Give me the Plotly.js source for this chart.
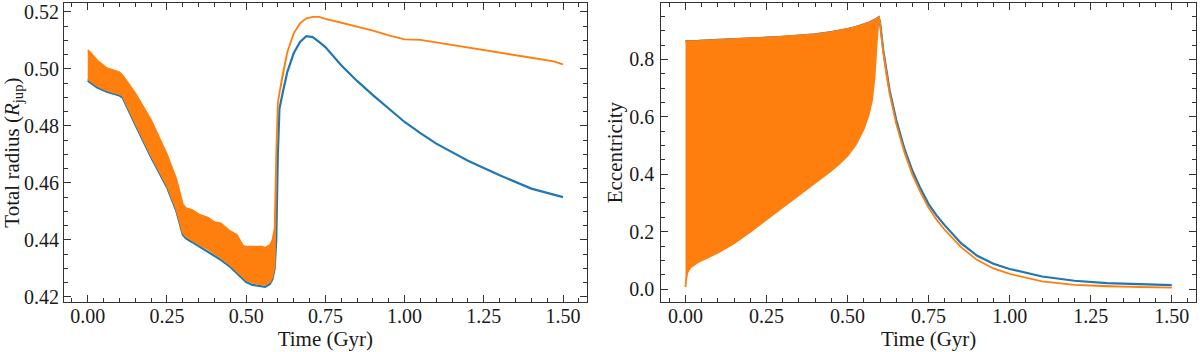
<!DOCTYPE html>
<html>
<head>
<meta charset="utf-8">
<script src="https://cdn.plot.ly/plotly-3.0.1.min.js"></script>
<style>
  html, body { margin: 0; padding: 0; background: #fff; }
  #chart { width: 1200px; height: 352px; }
</style>
</head>
<body>
<div id="chart"></div>
<script>
// --- left panel: total radius (R_jup) vs time (Gyr)
const radTime = [0, 0.005, 0.03, 0.06, 0.1, 0.11, 0.15, 0.2, 0.25, 0.28, 0.3, 0.31, 0.33, 0.35, 0.38, 0.4, 0.42, 0.45, 0.47, 0.49, 0.5, 0.52, 0.55, 0.56, 0.575, 0.583, 0.59, 0.595, 0.6, 0.605, 0.615, 0.63, 0.65, 0.67, 0.69, 0.71, 0.73, 0.75, 0.8, 0.85, 0.9, 0.95, 1.0, 1.05, 1.1, 1.2, 1.3, 1.4, 1.47, 1.49, 1.5];
const radBlue = [0.4960, 0.4955, 0.4935, 0.4920, 0.4907, 0.4900, 0.4805, 0.4690, 0.4585, 0.4500, 0.4418, 0.4405, 0.4392, 0.4378, 0.4360, 0.4346, 0.4330, 0.4305, 0.4285, 0.4262, 0.4252, 0.4242, 0.4236, 0.4235, 0.4245, 0.4262, 0.4300, 0.4400, 0.4700, 0.4860, 0.4915, 0.4990, 0.5055, 0.5095, 0.5115, 0.5112, 0.5095, 0.5077, 0.5013, 0.4958, 0.4908, 0.4860, 0.4814, 0.4775, 0.4738, 0.4678, 0.4627, 0.4580, 0.4558, 0.4552, 0.4550];
const radOrangeHi = [0.5066, 0.5062, 0.5030, 0.5003, 0.4988, 0.4978, 0.4915, 0.4820, 0.4700, 0.4612, 0.4525, 0.4512, 0.4505, 0.4490, 0.4478, 0.4462, 0.4458, 0.4430, 0.4418, 0.4380, 0.4376, 0.4375, 0.4376, 0.4372, 0.4382, 0.4400, 0.4440, 0.4700, 0.4880, 0.4915, 0.4980, 0.5060, 0.5125, 0.5160, 0.5178, 0.5183, 0.5183, 0.5176, 0.5163, 0.5150, 0.5135, 0.5118, 0.5104, 0.5102, 0.5093, 0.5075, 0.5057, 0.5040, 0.5027, 0.5020, 0.5016];
const radOrangeLo = [0.4965, 0.4960, 0.4940, 0.4925, 0.4912, 0.4906, 0.4811, 0.4696, 0.4591, 0.4506, 0.4425, 0.4412, 0.4399, 0.4385, 0.4367, 0.4353, 0.4337, 0.4312, 0.4292, 0.4269, 0.4259, 0.4249, 0.4243, 0.4242, 0.4252, 0.4270, 0.4310, 0.4700, 0.4880, 0.4915, 0.4980, 0.5060, 0.5125, 0.5160, 0.5178, 0.5183, 0.5183, 0.5176, 0.5163, 0.5150, 0.5135, 0.5118, 0.5104, 0.5102, 0.5093, 0.5075, 0.5057, 0.5040, 0.5027, 0.5020, 0.5016];

// --- right panel: eccentricity vs time (Gyr)
const eccTime = [0, 0.002, 0.006, 0.015, 0.04, 0.1, 0.15, 0.2, 0.25, 0.3, 0.35, 0.4, 0.45, 0.475, 0.5, 0.525, 0.55, 0.565, 0.575, 0.583, 0.59, 0.596, 0.6, 0.61, 0.62, 0.63, 0.65, 0.675, 0.7, 0.725, 0.75, 0.775, 0.8, 0.85, 0.9, 0.95, 1.0, 1.1, 1.2, 1.3, 1.4, 1.5];
const eccBlue = [0.864, 0.864, 0.864, 0.865, 0.865, 0.868, 0.870, 0.873, 0.876, 0.879, 0.882, 0.887, 0.895, 0.900, 0.906, 0.913, 0.921, 0.928, 0.933, 0.937, 0.942, 0.947, 0.930, 0.832, 0.752, 0.690, 0.590, 0.490, 0.412, 0.350, 0.296, 0.256, 0.222, 0.160, 0.116, 0.088, 0.070, 0.044, 0.029, 0.021, 0.017, 0.014];
const eccOrangeHi = [0.864, 0.864, 0.864, 0.865, 0.865, 0.868, 0.870, 0.873, 0.876, 0.879, 0.882, 0.887, 0.895, 0.900, 0.906, 0.913, 0.921, 0.928, 0.933, 0.937, 0.942, 0.947, 0.928, 0.826, 0.745, 0.680, 0.576, 0.478, 0.398, 0.337, 0.283, 0.241, 0.206, 0.146, 0.101, 0.072, 0.053, 0.027, 0.015, 0.010, 0.007, 0.005];
const eccOrangeLo = [0.007, 0.035, 0.058, 0.075, 0.095, 0.127, 0.160, 0.200, 0.243, 0.285, 0.328, 0.370, 0.413, 0.437, 0.465, 0.503, 0.558, 0.607, 0.655, 0.735, 0.860, 0.947, 0.928, 0.826, 0.745, 0.680, 0.576, 0.478, 0.398, 0.337, 0.283, 0.241, 0.206, 0.146, 0.101, 0.072, 0.053, 0.027, 0.015, 0.010, 0.007, 0.005];

const BLUE = '#1f77b4';
const ORANGE = '#ff7f0e';
const FONT = 'Liberation Serif, DejaVu Serif, serif';
const INK = '#1a1a1a';

// band = upper envelope out, lower envelope back
function band(t, hi, lo, xa, ya) {
    return {
        x: t.concat(t.slice().reverse()),
        y: hi.concat(lo.slice().reverse()),
        xaxis: xa, yaxis: ya,
        type: 'scatter', mode: 'lines',
        fill: 'toself', fillcolor: ORANGE,
        line: { color: ORANGE, width: 1.8 },
        hoverinfo: 'skip'
    };
}

const traces = [
    { x: radTime, y: radBlue, xaxis: 'x', yaxis: 'y', type: 'scatter', mode: 'lines',
      line: { color: BLUE, width: 2.2 } },
    band(radTime, radOrangeHi, radOrangeLo, 'x', 'y'),
    { x: eccTime, y: eccBlue, xaxis: 'x2', yaxis: 'y2', type: 'scatter', mode: 'lines',
      line: { color: BLUE, width: 2.2 } },
    band(eccTime, eccOrangeHi, eccOrangeLo, 'x2', 'y2')
];

const axisCommon = {
    showline: true, mirror: 'ticks', linecolor: '#333', linewidth: 1,
    ticks: 'inside', ticklen: 7, tickwidth: 1, tickcolor: '#333',
    showgrid: false, zeroline: false,
    tickfont: { family: FONT, size: 20, color: INK }
};
const titleFont = { family: FONT, size: 21, color: INK };

const xCommon = {
    ...axisCommon,
    range: [-0.075, 1.575], dtick: 0.25, tick0: 0, tickformat: '.2f',
    minor: { dtick: 0.05, ticklen: 4, ticks: 'inside', tickcolor: '#333', showgrid: false },
    ticklabelstandoff: -4,
    title: { text: 'Time (Gyr)', font: titleFont, standoff: 0 }
};

const layout = {
    width: 1200, height: 352,
    margin: { l: 0, r: 0, t: 0, b: 0 },
    paper_bgcolor: '#fff', plot_bgcolor: '#fff',
    showlegend: false,
    xaxis: { ...xCommon, domain: [0.0533, 0.489], anchor: 'y' },
    yaxis: {
        ...axisCommon, domain: [0.142, 0.991], anchor: 'x',
        range: [0.4182, 0.5231], dtick: 0.02, tick0: 0.42, tickformat: '.2f',
        minor: { dtick: 0.005, ticklen: 4, ticks: 'inside', tickcolor: '#333', showgrid: false },
        ticklabelstandoff: 0,
        title: { text: 'Total radius (<i>R</i><sub>jup</sub>)', font: titleFont, standoff: 3 }
    },
    xaxis2: { ...xCommon, domain: [0.551, 0.9967], anchor: 'y2' },
    yaxis2: {
        ...axisCommon, domain: [0.142, 0.991], anchor: 'x2',
        range: [-0.045, 0.996], dtick: 0.2, tick0: 0, tickformat: '.1f',
        minor: { dtick: 0.05, ticklen: 4, ticks: 'inside', tickcolor: '#333', showgrid: false },
        ticklabelstandoff: 2,
        title: { text: 'Eccentricity', font: titleFont, standoff: 0 }
    }
};

Plotly.newPlot('chart', traces, layout, { staticPlot: true, displayModeBar: false });
</script>
</body>
</html>
